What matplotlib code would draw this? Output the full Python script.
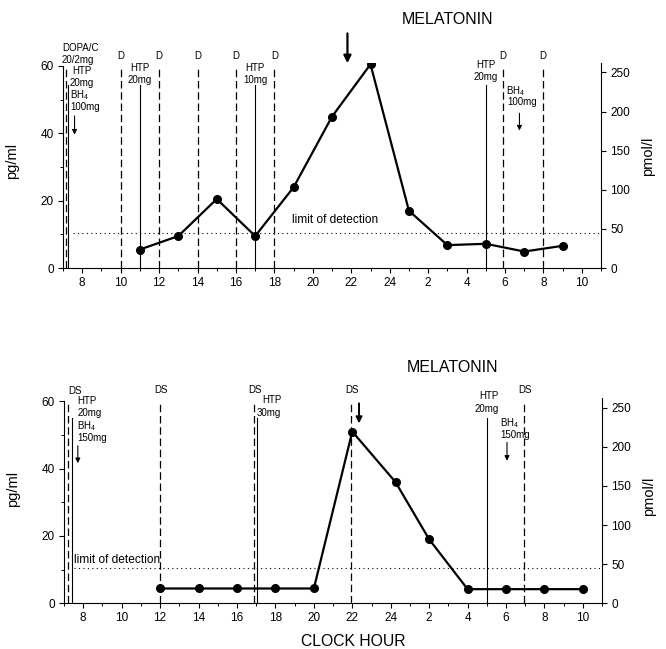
import numpy as np
import matplotlib
matplotlib.use("Agg")
import matplotlib.pyplot as plt
from matplotlib.ticker import MultipleLocator, FixedLocator

plt.rcParams['font.family'] = ['Liberation Sans', 'DejaVu Sans']
plt.rcParams['mathtext.fontset'] = 'custom'
plt.rcParams['mathtext.rm'] = 'Liberation Sans'
plt.rcParams['mathtext.it'] = 'Liberation Sans'
plt.rcParams['mathtext.default'] = 'regular'

# clock hour continues past 24 (25 = 1 am next day)
hour_ticks = [8, 10, 12, 14, 16, 18, 20, 22, 24, 26, 28, 30, 32, 34]
hour_labels = ['8', '10', '12', '14', '16', '18', '20', '22', '24', '2', '4', '6', '8', '10']

# panel A: melatonin (pg/ml)
top_hours = [11, 13, 15, 17, 19, 21, 23, 25, 27, 29, 31, 33]
top_pg = [5.5, 9.5, 20.5, 9.5, 24, 45, 60.5, 17, 6.8, 7.2, 4.9, 6.6]
top_d_lines = [10, 12, 14, 16, 18, 29.9, 31.95]
top_htp = [(11, '20mg'), (17, '10mg'), (29, '20mg')]

# panel B
bot_hours = [12, 14, 16, 18, 20, 22, 24.25, 26, 28, 30, 32, 34]
bot_pg = [4.4, 4.4, 4.4, 4.4, 4.4, 51, 36, 19, 4.2, 4.2, 4.2, 4.2]
bot_ds_lines = [7.2, 12, 16.9, 21.95, 30.95]
bot_htp = [(7.42, '20mg'), (17.05, '30mg'), (29, '20mg')]

limit_pg = 10.4
pg_to_pmol = 4.305

fig = plt.figure(figsize=(6.66, 6.49), dpi=100)
ax1 = fig.add_axes([0.0946, 0.587, 0.808, 0.3165])
ax2 = fig.add_axes([0.0961, 0.0704, 0.808, 0.3165])

fs_tick = 8.5
fs_small = 7


def setup(ax, ylabel_y, rlabel_y):
    ax.set_xlim(7, 35)
    ax.set_ylim(0, 61)
    ax.spines['top'].set_visible(False)
    ax.spines['right'].set_visible(False)
    ax.spines['left'].set_bounds(0, 60)
    ax.xaxis.set_major_locator(FixedLocator(hour_ticks))
    ax.set_xticklabels(hour_labels)
    ax.xaxis.set_minor_locator(MultipleLocator(1))
    ax.yaxis.set_major_locator(MultipleLocator(20))
    ax.yaxis.set_minor_locator(MultipleLocator(10))
    ax.tick_params(which='major', length=3.5, width=0.8, labelsize=fs_tick, pad=3)
    ax.tick_params(which='minor', length=2, width=0.7)
    ax.set_ylabel('pg/ml', fontsize=10.5)
    ax.yaxis.set_label_coords(-0.082, ylabel_y)
    ax.axhline(limit_pg, xmin=(7.5 - 7) / 28, xmax=1, color='k', ls=(0, (1, 3)), lw=0.8)

    r = ax.twinx()
    r.set_ylim(0, 61 * pg_to_pmol)
    r.spines['top'].set_visible(False)
    r.spines['left'].set_visible(False)
    r.spines['bottom'].set_visible(False)
    r.yaxis.set_major_locator(MultipleLocator(50))
    r.tick_params(which='major', length=3.5, width=0.8, labelsize=fs_tick, pad=3)
    r.set_ylabel('pmol/l', fontsize=10.5, rotation=90)
    r.yaxis.set_label_coords(1.075, rlabel_y)
    return r


setup(ax1, 0.52, 0.546)
setup(ax2, 0.556, 0.52)

# ---------- panel A ----------
ax1.plot(top_hours, top_pg, color='k', lw=1.6, marker='o', ms=5.5, zorder=5)
for x in top_d_lines:
    ax1.plot([x, x], [0, 59.5], color='k', lw=0.9, ls=(0, (6, 3)))
    ax1.text(x, 62.9, 'D', fontsize=fs_small, ha='center', va='center')
for x, dose in top_htp:
    ax1.plot([x, x], [0, 54.5], color='k', lw=0.8)
    y0 = 60.3 if x > 25 else 59.3
    ax1.text(x, y0, 'HTP', fontsize=fs_small, ha='center', va='center')
    ax1.text(x, y0 - 3.6, dose, fontsize=fs_small, ha='center', va='center')

# first doses at the start
ax1.plot([7.15, 7.15], [0, 59.6], color='k', lw=0.9, ls=(0, (6, 3)), clip_on=False)
ax1.plot([7.28, 7.28], [0, 54.3], color='k', lw=0.8)
ax1.text(6.94, 65.3, 'DOPA/C', fontsize=fs_small, ha='left', va='center')
ax1.text(6.94, 61.8, '20/2mg', fontsize=fs_small, ha='left', va='center')
ax1.text(7.5, 58.6, 'HTP', fontsize=fs_small, ha='left', va='center')
ax1.text(7.34, 55.0, '20mg', fontsize=fs_small, ha='left', va='center')
ax1.text(7.38, 51.4, 'BH$_4$', fontsize=fs_small, ha='left', va='center')
ax1.text(7.38, 47.8, '100mg', fontsize=fs_small, ha='left', va='center')
ax1.annotate('', xy=(7.6, 38.8), xytext=(7.6, 46),
             arrowprops=dict(arrowstyle='-|>', color='k', lw=0.8, mutation_scale=7))

ax1.text(30.05, 52.6, 'BH$_4$', fontsize=fs_small, ha='left', va='center')
ax1.text(30.1, 49.2, '100mg', fontsize=fs_small, ha='left', va='center')
ax1.annotate('', xy=(30.75, 40), xytext=(30.75, 46.8),
             arrowprops=dict(arrowstyle='-|>', color='k', lw=0.8, mutation_scale=7))

ax1.annotate('', xy=(21.8, 60), xytext=(21.8, 70.5), annotation_clip=False,
             arrowprops=dict(arrowstyle='-|>', color='k', lw=1.6, mutation_scale=11))
ax1.text(18.9, 12.6, 'limit of detection', fontsize=8.6, ha='left', va='bottom')
ax1.text(27, 73.7, 'MELATONIN', fontsize=11.5, ha='center', va='center')

# ---------- panel B ----------
ax2.plot(bot_hours, bot_pg, color='k', lw=1.6, marker='o', ms=5.5, zorder=5)
for x in bot_ds_lines:
    ax2.plot([x, x], [0, 60.2], color='k', lw=0.9, ls=(0, (6, 3)))
for x, dose in bot_htp:
    ax2.plot([x, x], [0, 55], color='k', lw=0.8)

ax2.text(7.2, 63, 'DS', fontsize=fs_small, ha='left', va='center')
for x in bot_ds_lines[1:]:
    ax2.text(x + 0.05, 63.2, 'DS', fontsize=fs_small, ha='center', va='center')
ax2.text(7.7, 60.2, 'HTP', fontsize=fs_small, ha='left', va='center')
ax2.text(7.7, 56.5, '20mg', fontsize=fs_small, ha='left', va='center')
ax2.text(7.7, 52.6, 'BH$_4$', fontsize=fs_small, ha='left', va='center')
ax2.text(7.7, 49.2, '150mg', fontsize=fs_small, ha='left', va='center')
ax2.annotate('', xy=(7.72, 40.8), xytext=(7.72, 47.6),
             arrowprops=dict(arrowstyle='-|>', color='k', lw=0.8, mutation_scale=7))

ax2.text(17.3, 60.3, 'HTP', fontsize=fs_small, ha='left', va='center')
ax2.text(17.05, 56.6, '30mg', fontsize=fs_small, ha='left', va='center')

ax2.text(29.1, 61.5, 'HTP', fontsize=fs_small, ha='center', va='center')
ax2.text(29.0, 57.8, '20mg', fontsize=fs_small, ha='center', va='center')
ax2.text(29.7, 53.6, 'BH$_4$', fontsize=fs_small, ha='left', va='center')
ax2.text(29.7, 50.0, '150mg', fontsize=fs_small, ha='left', va='center')
ax2.annotate('', xy=(30.05, 41.5), xytext=(30.05, 48.6),
             arrowprops=dict(arrowstyle='-|>', color='k', lw=0.8, mutation_scale=7))

ax2.annotate('', xy=(22.35, 52.6), xytext=(22.35, 60.2), annotation_clip=False,
             arrowprops=dict(arrowstyle='-|>', color='k', lw=1.4, mutation_scale=9))
ax2.text(7.5, 11.2, 'limit of detection', fontsize=8.6, ha='left', va='bottom')
ax2.text(27.2, 70, 'MELATONIN', fontsize=11.5, ha='center', va='center')

fig.text(0.53, 0.012, 'CLOCK HOUR', fontsize=11.3, ha='center', va='center')

fig.savefig('out.png', dpi=100)
